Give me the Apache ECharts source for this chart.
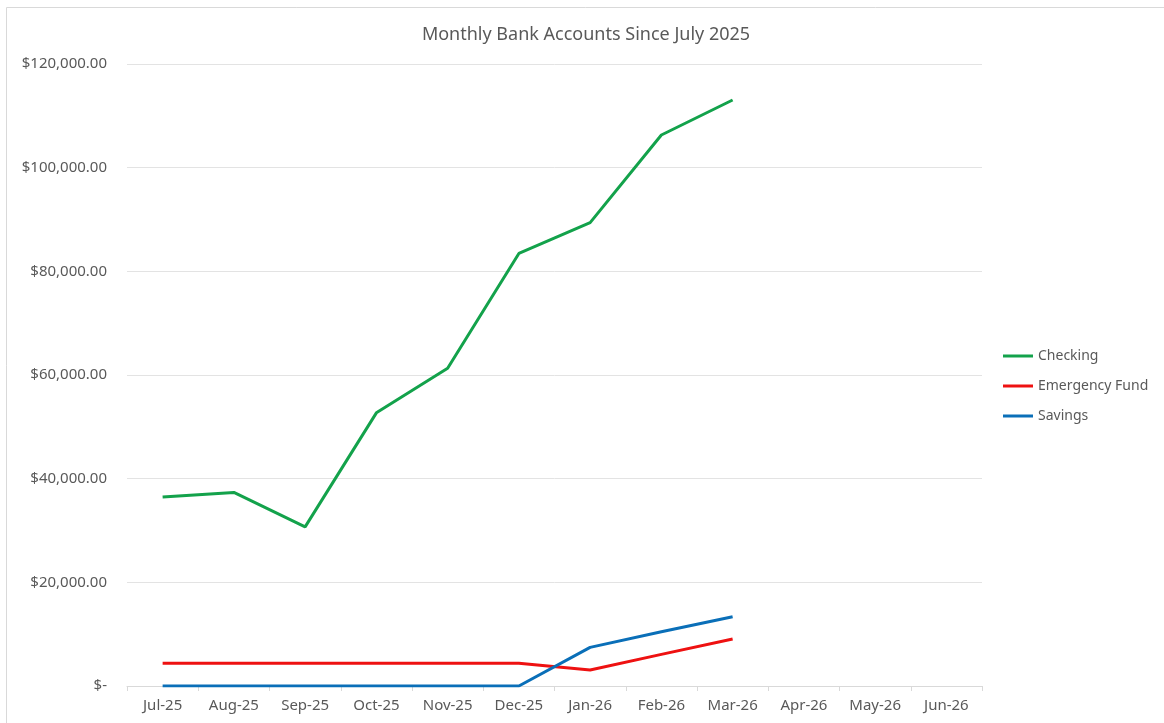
<!DOCTYPE html>
<html lang="en">
<head>
  <meta charset="UTF-8">
  <title>Monthly Bank Accounts Since July 2025</title>
  <script src="https://cdn.jsdelivr.net/npm/echarts@6/dist/echarts.min.js"></script>
  <style>
    html, body, #main {
      margin: 0;
      padding: 0;
      width: 1164px;
      height: 723px;
      background: #fff;
    }
  </style>
</head>
<body>
  <div id="main"></div>

  <script>
    const months = ["Jul-25", "Aug-25", "Sep-25", "Oct-25", "Nov-25", "Dec-25",
                    "Jan-26", "Feb-26", "Mar-26", "Apr-26", "May-26", "Jun-26"];

    const checking = [36450, 37350, 30700, 52700, 61300, 83450, 89400, 106300, 113050, null, null, null];
    const emergencyFund = [4400, 4400, 4400, 4400, 4400, 4400, 3100, 6100, 9050, null, null, null];
    const savings = [0, 0, 0, 0, 0, 0, 7450, 10450, 13350, null, null, null];

    const grey = "#595959";
    const font = "Noto Sans";

    function money(v) {
      if (v === 0) return "$-";
      return "$" + v.toLocaleString("en-US", { minimumFractionDigits: 2, maximumFractionDigits: 2 });
    }

    function lineSeries(name, data, color) {
      return {
        name: name,
        type: "line",
        data: data,
        symbol: "none",
        lineStyle: { color: color, width: 3 },
        itemStyle: { color: color }
      };
    }

    const chart = echarts.init(document.getElementById("main"));
    chart.setOption({
      animation: false,
      title: {
        text: "Monthly Bank Accounts Since July 2025",
        left: 581,
        textAlign: "center",
        top: 21,
        textStyle: { color: grey, fontFamily: font, fontSize: 18, fontWeight: "normal" }
      },
      graphic: [{
        type: "rect",
        shape: { x: 6.5, y: 7.5, width: 1170, height: 730 },
        style: { fill: "none", stroke: "#d9d9d9", lineWidth: 1 },
        silent: true
      }],
      legend: {
        orient: "vertical",
        left: 998,
        top: 344,
        icon: "rect",
        itemWidth: 30,
        itemHeight: 3,
        itemGap: 16,
        textStyle: { color: grey, fontFamily: font, fontSize: 14 },
        data: ["Checking", "Emergency Fund", "Savings"]
      },
      grid: { left: 127, right: 182, top: 64, bottom: 37 },
      xAxis: {
        type: "category",
        data: months,
        axisLine: { lineStyle: { color: "#d9d9d9" } },
        axisTick: { show: true, length: 5, lineStyle: { color: "#d9d9d9" } },
        axisLabel: { color: grey, fontFamily: font, fontSize: 15, margin: 12 }
      },
      yAxis: {
        type: "value",
        min: 0,
        max: 120000,
        interval: 20000,
        axisLine: { show: false },
        axisTick: { show: false },
        splitLine: { lineStyle: { color: "#e3e3e3" } },
        axisLabel: { color: grey, fontFamily: font, fontSize: 15, margin: 20, formatter: money }
      },
      series: [
        lineSeries("Checking", checking, "#13a24b"),
        lineSeries("Emergency Fund", emergencyFund, "#ee1111"),
        lineSeries("Savings", savings, "#0a6fb8")
      ]
    });
  </script>
</body>
</html>
